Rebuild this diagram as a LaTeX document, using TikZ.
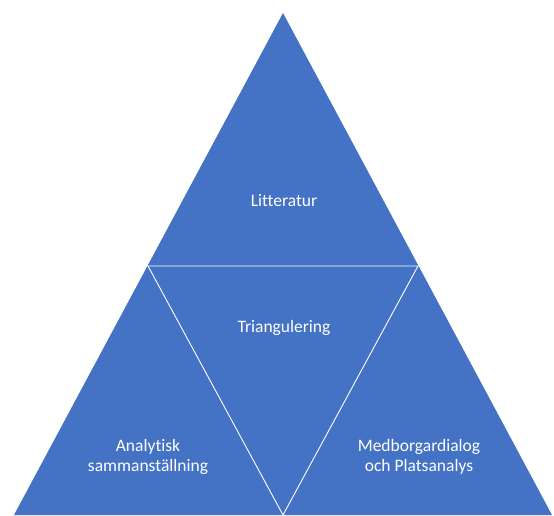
\documentclass[tikz,border=0pt]{standalone}
\usepackage{fontspec}
\setmainfont[Ligatures=NoCommon]{Carlito}
\definecolor{tri}{HTML}{4472C4}
\begin{document}
\begin{tikzpicture}[x=1pt,y=-1pt,
  divider/.style={draw=white,line width=0.9pt,line join=miter},
  lbl/.style={text=white,font=\fontsize{17.5}{19.5}\selectfont,align=center,inner sep=0pt}]
\useasboundingbox (0,0) rectangle (554,515);
\coordinate (A) at (283,13);
\coordinate (L) at (148,266);
\coordinate (R) at (418,266);
\coordinate (BL) at (14,515);
\coordinate (BM) at (283,515);
\coordinate (BR) at (552,515);
\fill[tri] (A) -- (BL) -- (BR) -- cycle;
\draw[divider] (L) -- (R) -- (BM) -- cycle;
\node[lbl] (lit) at (284,201) {Litteratur};
\node[lbl] (tri) at (284,328) {Triangulering};
\node[lbl] (ana) at (148,457) {Analytisk\\sammanställning};
\node[lbl] (med) at (419,457) {Medborgardialog\\och Platsanalys};
\end{tikzpicture}
\end{document}
